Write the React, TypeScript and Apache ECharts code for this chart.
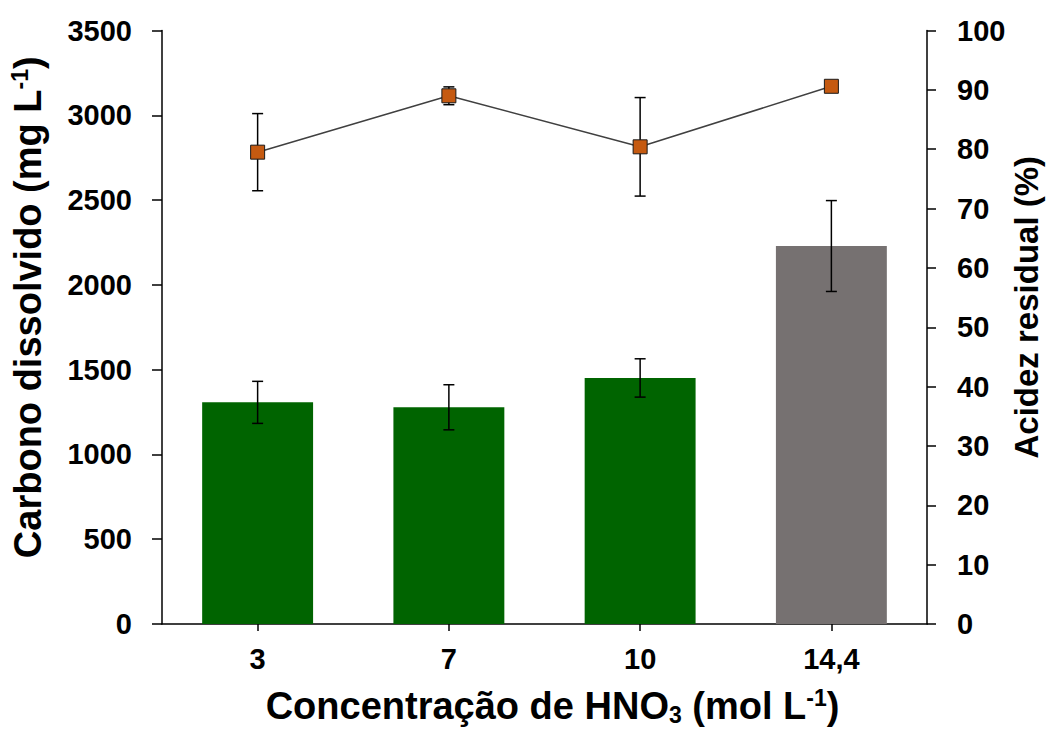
import React, { useEffect, useRef } from "react";
import * as echarts from "echarts";

// HNO3 concentrations (mol L-1)
const categories = ["3", "7", "10", "14,4"];

// Dissolved carbon (mg L-1), mean and standard deviation
const carbonMean = [1307, 1278, 1451, 2229];
const carbonSd = [124, 133, 113, 268];
const barColors = ["#006400", "#006400", "#006400", "#767171"];

// Residual acidity (%), mean and standard deviation
const acidityMean = [79.5, 89.0, 80.4, 90.6];
const aciditySd = [6.5, 1.5, 8.3, 0];

// Tick settings
const carbonTicks = { min: 0, max: 3500, interval: 500 };
const acidityTicks = { min: 0, max: 100, interval: 10 };

const FONT = "'Liberation Sans', Arial, sans-serif";

function errorBarItem(params: any, api: any) {
  const x = api.value(0);
  const lo = api.value(1);
  const hi = api.value(2);
  const pLo = api.coord([x, lo]);
  const pHi = api.coord([x, hi]);
  const half = 5.5;
  const style = { stroke: "#000000", lineWidth: 1.5 };
  return {
    type: "group",
    children: [
      { type: "line", shape: { x1: pHi[0], y1: pHi[1], x2: pLo[0], y2: pLo[1] }, style },
      { type: "line", shape: { x1: pHi[0] - half, y1: pHi[1], x2: pHi[0] + half, y2: pHi[1] }, style },
      { type: "line", shape: { x1: pLo[0] - half, y1: pLo[1], x2: pLo[0] + half, y2: pLo[1] }, style },
    ],
  };
}

function titleRich(size: number) {
  const sub = Math.round(size * 0.6);
  return {
    t: { fontFamily: FONT, fontSize: size, fontWeight: "bold", color: "#000", lineHeight: size + 2 },
    sup: { fontFamily: FONT, fontSize: sub, fontWeight: "bold", color: "#000", lineHeight: sub, verticalAlign: "top" },
    sub: { fontFamily: FONT, fontSize: sub, fontWeight: "bold", color: "#000", lineHeight: sub, verticalAlign: "bottom" },
  };
}

export default function App() {
  const ref = useRef<HTMLDivElement>(null);

  useEffect(() => {
    if (!ref.current) return;
    const chart = echarts.init(ref.current, null, { renderer: "svg" });

    const carbonErr = categories.map((_, i) => [i, carbonMean[i] - carbonSd[i], carbonMean[i] + carbonSd[i]]);
    const acidityErr = categories
      .map((_, i) => [i, acidityMean[i] - aciditySd[i], acidityMean[i] + aciditySd[i]])
      .filter((d, i) => aciditySd[i] > 0);

    const axisLine = { show: true, lineStyle: { color: "#000000", width: 1.5 } };
    const tickLabel = {
      fontFamily: FONT,
      fontSize: 29,
      fontWeight: "bold",
      color: "#000000",
      formatter: (v: number | string) => String(v),
    };

    chart.setOption({
      animation: false,
      backgroundColor: "#ffffff",
      grid: {
        left: 162,
        right: 122,
        top: 30.5,
        bottom: 109,
        containLabel: false,
        outerBoundsMode: "none",
      },
      xAxis: {
        type: "category",
        data: categories,
        boundaryGap: true,
        axisLine,
        axisTick: { show: true, alignWithLabel: true, length: 7, lineStyle: { color: "#000", width: 1.5 } },
        axisLabel: { ...tickLabel, margin: 20 },
        splitLine: { show: false },
        name: "{t|Concentração de HNO}{sub|3}{t| (mol L}{sup|-1}{t|)}",
        nameLocation: "middle",
        nameGap: 62,
        nameMoveOverlap: false,
        nameTextStyle: { rich: titleRich(38), padding: [0, 0, 0, 16] },
      },
      yAxis: [
        {
          type: "value",
          position: "left",
          ...carbonTicks,
          axisLine,
          axisTick: { show: true, length: 10, lineStyle: { color: "#000", width: 1.5 } },
          axisLabel: { ...tickLabel, margin: 30 },
          splitLine: { show: false },
          name: "{t|Carbono dissolvido (mg L}{sup|-1}{t|)}",
          nameLocation: "middle",
          nameRotate: 90,
          nameGap: 114,
          nameMoveOverlap: false,
          nameTextStyle: { rich: titleRich(38), padding: [0, 0, 0, 40] },
        },
        {
          type: "value",
          position: "right",
          ...acidityTicks,
          axisLine,
          axisTick: { show: true, length: 9, lineStyle: { color: "#000", width: 1.5 } },
          axisLabel: { ...tickLabel, margin: 30 },
          splitLine: { show: false },
          name: "{t|Acidez residual (%)}",
          nameLocation: "middle",
          nameRotate: 90,
          nameGap: 82,
          nameMoveOverlap: false,
          nameTextStyle: { rich: titleRich(33), padding: [0, 0, 0, 40] },
        },
      ],
      series: [
        {
          type: "bar",
          yAxisIndex: 0,
          barWidth: "58%",
          data: carbonMean.map((v, i) => ({ value: v, itemStyle: { color: barColors[i] } })),
          z: 2,
        },
        {
          type: "custom",
          yAxisIndex: 0,
          renderItem: errorBarItem,
          encode: { x: 0, y: [1, 2] },
          data: carbonErr,
          z: 3,
        },
        {
          type: "custom",
          yAxisIndex: 1,
          renderItem: errorBarItem,
          encode: { x: 0, y: [1, 2] },
          data: acidityErr,
          z: 4,
        },
        {
          type: "line",
          yAxisIndex: 1,
          data: acidityMean,
          symbol: "rect",
          symbolSize: 14,
          lineStyle: { color: "#404040", width: 1.5 },
          itemStyle: { color: "#C55A11", borderColor: "#1a1a1a", borderWidth: 1 },
          z: 5,
        },
      ],
    });

    return () => chart.dispose();
  }, []);

  return (
    <div
      ref={ref}
      style={{ position: "absolute", left: 0, top: 0, width: 1049, height: 733, background: "#fff" }}
    />
  );
}
